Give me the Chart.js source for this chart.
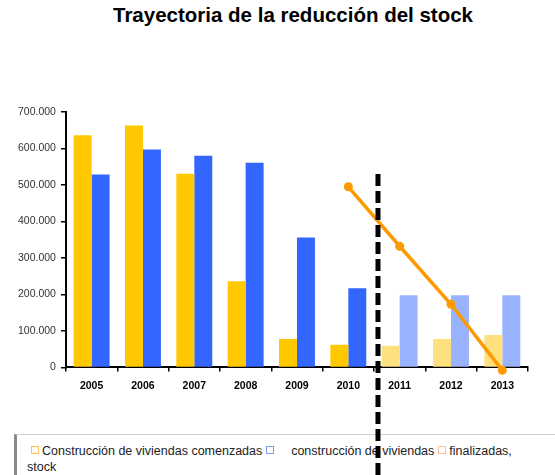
<!DOCTYPE html>
<html>
<head>
<meta charset="utf-8">
<script src="https://cdn.jsdelivr.net/npm/chart.js@4.4.1/dist/chart.umd.min.js"></script>
<style>
  html, body { margin: 0; padding: 0; background: #fff; }
  #wrap { position: relative; width: 555px; height: 475px; overflow: hidden; }
  #titulo {
    position: absolute; left: 93px; top: 3px; width: 400px; text-align: center;
    font-family: "Liberation Sans", Arial, sans-serif; font-size: 20.5px; font-weight: bold; color: #000;
  }
  #leyenda {
    position: absolute; left: 14px; top: 434px; width: 541px; height: 45px;
    border-left: 3px solid #8a8a8a; border-top: 1px solid #cfcfcf;
    font-family: "Liberation Sans", Arial, sans-serif; font-size: 12.5px; color: #222;
    line-height: 16px; padding: 8px 0 0 10px; box-sizing: border-box; z-index: 0;
  }
  .cuadro { display: inline-block; width: 6px; height: 6px; margin: 0 3px 1px 4px; border: 1px solid; }
  canvas { position: absolute; left: 0; top: 0; z-index: 1; pointer-events: none; }
</style>
</head>
<body>
<div id="wrap">
  <div id="titulo">Trayectoria de la reducción del stock</div>
  <div id="leyenda">
    <span class="cuadro" style="border-color:#ffc24d"></span>Construcción de viviendas comenzadas<span class="cuadro" style="border-color:#7f9cf0"></span>&nbsp;&nbsp;&nbsp; construcción de viviendas<span class="cuadro" style="border-color:#ffc09a"></span>finalizadas,<br>stock
  </div>
  <canvas id="grafico" width="555" height="475"></canvas>
</div>
<script>
// Datos
const anios = ["2005", "2006", "2007", "2008", "2009", "2010", "2011", "2012", "2013"];
const comenzadas = [636000, 663000, 531000, 236000, 78000, 62000, 59000, 78000, 89000];
const finalizadas = [529000, 597000, 580000, 561000, 356000, 217000, 198000, 198000, 198000];
const stock = [null, null, null, null, null, 495000, 332000, 173000, -8000];
const ticksY = [0, 100000, 200000, 300000, 400000, 500000, 600000, 700000];

// Colores: años reales vs. previsión (más claros)
const esPrevision = (i) => i > 5;
const coloresComenzadas = anios.map((_, i) => (esPrevision(i) ? "#ffe07f" : "#ffc800"));
const coloresFinalizadas = anios.map((_, i) => (esPrevision(i) ? "#99b3ff" : "#3366ff"));

function formatoMiles(v) {
  return v.toString().replace(/\B(?=(\d{3})+(?!\d))/g, ".");
}

// Línea discontinua vertical entre 2010 y 2011
const lineaCorte = {
  id: "lineaCorte",
  afterDraw(chart) {
    const x = chart.scales.x;
    const y = chart.scales.y;
    const px = (x.getPixelForValue(5) + x.getPixelForValue(6)) / 2 + 4;
    const ctx = chart.ctx;
    ctx.save();
    ctx.strokeStyle = "#000";
    ctx.lineWidth = 5;
    ctx.setLineDash([12, 5]);
    ctx.beginPath();
    ctx.moveTo(px, y.getPixelForValue(530000));
    ctx.lineTo(px, chart.height);
    ctx.stroke();
    ctx.restore();
  },
};

const ctx = document.getElementById("grafico").getContext("2d");
new Chart(ctx, {
  data: {
    labels: anios,
    datasets: [
      {
        type: "line",
        label: "stock",
        data: stock,
        borderColor: "#ff9900",
        backgroundColor: "#ff9900",
        borderWidth: 3.5,
        pointRadius: 4.5,
        pointBorderWidth: 0,
        clip: false,
        order: 0,
      },
      {
        type: "bar",
        label: "Construcción de viviendas comenzadas",
        data: comenzadas,
        backgroundColor: coloresComenzadas,
        barPercentage: 1,
        categoryPercentage: 0.7,
        order: 1,
      },
      {
        type: "bar",
        label: "construcción de viviendas finalizadas",
        data: finalizadas,
        backgroundColor: coloresFinalizadas,
        barPercentage: 1,
        categoryPercentage: 0.7,
        order: 1,
      },
    ],
  },
  options: {
    responsive: false,
    animation: false,
    layout: { padding: { left: 13, right: 27, top: 112, bottom: 75 } },
    plugins: {
      legend: { display: false },
      tooltip: { enabled: false },
      title: { display: false },
    },
    scales: {
      x: {
        grid: { drawOnChartArea: false, drawTicks: true, tickLength: 4, color: "#000", lineWidth: 1.5 },
        border: { color: "#000", width: 2 },
        ticks: { color: "#000", font: { family: "Liberation Sans", size: 10.5, weight: "bold" }, padding: 8 },
      },
      y: {
        min: 0,
        max: 700000,
        afterBuildTicks: (axis) => {
          axis.ticks = ticksY.map((v) => ({ value: v }));
        },
        grid: { drawOnChartArea: false, drawTicks: true, tickLength: 5, color: "#000", lineWidth: 1.5 },
        border: { color: "#000", width: 2 },
        ticks: {
          color: "#333",
          font: { family: "Liberation Sans", size: 10.5 },
          padding: 5,
          callback: (v) => formatoMiles(v),
        },
      },
    },
  },
  plugins: [lineaCorte],
});
</script>
</body>
</html>
